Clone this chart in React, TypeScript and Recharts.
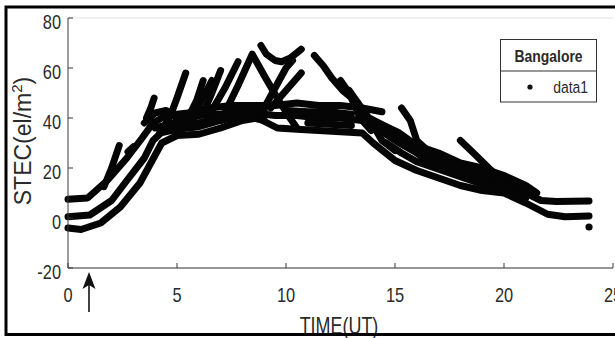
import React from 'react'
import { ComposedChart, Line, Scatter, XAxis, YAxis, CartesianGrid } from 'recharts'

// STEC passes over Bangalore (time in UT hours, STEC in el/m^2 units)
const passTop = [[0, 7.5], [0.9, 8], [1.8, 15], [2.7, 24], [3.4, 32], [3.9, 38], [4.5, 41], [5.5, 42], [6.5, 44], [7.5, 45], [8.5, 45], [9.5, 45], [10.5, 46], [11.5, 45], [12.5, 45], [13.5, 44], [14.4, 42.5]]
const passMid = [[0, 0.5], [1, 1.2], [2, 7], [2.7, 15], [3.5, 24], [3.9, 31], [4.5, 36], [5.5, 37], [6.5, 39], [7.5, 42], [8.5, 42], [9.5, 41], [10.5, 41], [11.5, 40], [12.5, 40], [13.5, 39], [14.5, 34], [15.2, 30], [16, 26], [17, 22], [18, 19], [19, 16], [20, 14], [21, 10], [21.7, 7], [22.4, 6.6], [23.9, 6.8]]
const passLow = [[0, -4], [0.6, -4.6], [1.5, -2], [2.4, 4.4], [3.3, 14], [3.8, 22], [4.3, 30], [5, 33], [6, 33.5], [7, 36], [8, 39], [8.7, 40], [9.6, 36], [10.5, 35.5], [11.5, 35], [12.5, 34.5], [13.5, 34], [14, 30], [15, 23], [16, 19], [17, 16], [18, 13], [19, 11], [20, 10], [21, 6], [22, 1.5], [22.8, 0.5], [23.9, 0.8]]
const passDesc = [[13.6, 41], [14.5, 37], [15.2, 34], [16, 29], [17, 26], [18, 22], [19, 20], [20, 17], [21, 13], [21.5, 10]]
const passDesc2 = [[14.2, 37], [15, 32], [16, 27.5], [17, 24], [18, 20.5], [19, 18], [20, 15.5], [21, 11.5]]
const passDesc3 = [[14.6, 30], [15.3, 26], [16, 22.5], [17, 19.5], [18, 16.5], [19, 13.5], [20, 12], [21, 8]]
const passDesc4 = [[15.5, 30], [16.2, 24.5], [17.2, 21], [18.2, 17.5], [19.2, 15]]
const passBlob = [[3.5, 38], [4, 42], [4.5, 43], [5, 40], [5.5, 38], [6, 38]]
const passBlob2 = [[4, 36], [5, 38.5], [6, 41], [7, 41.5], [8, 44], [9, 43]]
const passBlob3 = [[4.2, 34], [5, 35.5], [6, 36.5], [7, 39], [8, 41], [9, 39]]
const passPlat = [[10, 43], [11, 42.5], [12, 42.5], [13, 41.5]]
const passPlat2 = [[11, 38], [12, 37.5], [13, 37]]
const spike1 = [[1.65, 12.5], [2.0, 20], [2.35, 29]]
const spike2 = [[2.75, 26.5], [3.0, 28.5]]
const spike3 = [[3.6, 40], [3.8, 44], [3.95, 48]]
const spike4 = [[4.5, 38], [4.7, 41], [5.0, 48], [5.4, 58]]
const spike5 = [[5.6, 36], [6.0, 45], [6.6, 55]]
const spike6 = [[5.5, 40], [5.9, 47], [6.2, 55]]
const spike7 = [[6.2, 42], [6.6, 50], [7.0, 59]]
const spike8 = [[6.6, 43], [7.2, 52], [7.8, 62.5]]
const peakA = [[7.3, 44], [7.8, 53], [8.45, 65.5], [9.0, 57], [9.6, 48], [10.1, 41], [10.5, 36]]
const archU = [[8.85, 69], [9.1, 65.5], [9.5, 63], [9.8, 62.5], [10.2, 64], [10.7, 67.5]]
const riseB = [[9.3, 44], [9.9, 50], [10.3, 54], [10.7, 58]]
const riseC = [[9.0, 44], [9.5, 52], [10.0, 60], [10.3, 63]]
const fallA = [[11.3, 65], [11.7, 61], [12.1, 56], [12.6, 51], [13.3, 46], [13.8, 40], [14.4, 31], [15, 27]]
const fallB = [[12.5, 55], [12.9, 50], [13.4, 40], [13.9, 35]]
const fallC = [[12.9, 51], [13.3, 46], [13.6, 41]]
const fallD = [[15.3, 44], [15.7, 39], [16, 31], [16.5, 27], [17.5, 22], [18.5, 17]]
const fallE = [[18, 31], [18.6, 26], [19.3, 20], [20.3, 12]]
const lastDot = [[23.9, -3.6]]

const passes = [passTop, passMid, passLow, passDesc, passDesc2, passDesc3, passDesc4, passBlob, passBlob2, passBlob3, passPlat, passPlat2, spike1, spike2, spike3, spike4, spike5, spike6, spike7, spike8, peakA, archU, riseB, riseC, fallA, fallB, fallC, fallD, fallE]

const xTicks = [0, 5, 10, 15, 20, 25]
const yTicks = [-20, 0, 20, 40, 60, 80]

const toPts = (arr: number[][]) => arr.map(([x, y]) => ({ x, y }))

const AXIS = '#3a3a3a'
const TXT = '#2a2a2a'
const SANS = '"Liberation Sans", Arial, sans-serif'
const SQ = 0.82 // the figure's text is horizontally narrow

const BottomTick = ({ x, y, payload }: any) => (
  <g>
    <line x1={x} x2={x} y1={y} y2={y - 5} stroke={AXIS} />
    <text transform={`translate(${x},${y + 34}) scale(${SQ},1)`} textAnchor="middle" fontSize={20} fontFamily={SANS} fill={TXT}>
      {payload.value}
    </text>
  </g>
)
const TopTick = ({ x, y }: any) => <line x1={x} x2={x} y1={y} y2={y + 5} stroke={AXIS} />
const LeftTick = ({ x, y, payload }: any) => (
  <g>
    <line x1={x} x2={x + 5} y1={y} y2={y} stroke={AXIS} />
    <text transform={`translate(${x - 7},${y + 11}) scale(${SQ},1)`} textAnchor="end" fontSize={20} fontFamily={SANS} fill={TXT}>
      {payload.value}
    </text>
  </g>
)
const RightTick = ({ x, y }: any) => <line x1={x} x2={x - 5} y1={y} y2={y} stroke={AXIS} />

export default function App() {
  return (
    <div style={{ position: 'absolute', left: 0, top: 0, width: 615, height: 338, overflow: 'hidden', background: '#fff' }}>
      <ComposedChart width={615} height={338} margin={{ top: 18, right: 2, bottom: 30, left: 0 }}>
        <CartesianGrid vertical={false} stroke="#e2e2e2" />
        <XAxis xAxisId="b" dataKey="x" type="number" domain={[0, 25]} ticks={xTicks} height={40} stroke={AXIS}
          tickLine={false} tickSize={0} tickMargin={0} tick={<BottomTick />} interval={0} />
        <XAxis xAxisId="t" orientation="top" dataKey="x" type="number" domain={[0, 25]} ticks={xTicks} height={0}
          stroke={AXIS} tickLine={false} tickSize={0} tickMargin={0} tick={<TopTick />} interval={0} />
        <YAxis yAxisId="l" dataKey="y" type="number" domain={[-20, 80]} ticks={yTicks} width={68} stroke={AXIS}
          tickLine={false} tickSize={0} tickMargin={0} tick={<LeftTick />} interval={0} />
        <YAxis yAxisId="r" orientation="right" dataKey="y" type="number" domain={[-20, 80]} ticks={yTicks} width={0}
          stroke={AXIS} tickLine={false} tickSize={0} tickMargin={0} tick={<RightTick />} interval={0} />
        {passes.map((p, i) => (
          <Line key={i} xAxisId="b" yAxisId="l" data={toPts(p)} dataKey="y" type="linear" stroke="#050505"
            strokeWidth={7} strokeLinecap="round" strokeLinejoin="round" dot={false} isAnimationActive={false} />
        ))}
        <Scatter xAxisId="b" yAxisId="l" data={toPts(lastDot)} dataKey="y" fill="#050505" isAnimationActive={false}
          shape={(p: any) => <circle cx={p.cx} cy={p.cy} r={3.6} fill="#050505" />} />
      </ComposedChart>
      <svg width={615} height={338} style={{ position: 'absolute', left: 0, top: 0, pointerEvents: 'none' }}>
        <text transform="translate(31,141) rotate(-90)" textAnchor="middle" fontSize={23} fontFamily={SANS} fill={TXT}>
          STEC(el/m<tspan dy={-9} fontSize={15}>2</tspan><tspan dy={9}>)</tspan>
        </text>
        <text transform={`translate(339,334) scale(0.78,1)`} textAnchor="middle" fontSize={23} fontFamily={SANS} fill={TXT}>TIME(UT)</text>
        <g>
          <line x1={89} x2={89} y1={285} y2={312} stroke="#111" strokeWidth={1.6} />
          <path d="M89,272 L95.5,289 L89,285 L82.5,289 Z" fill="#111" />
        </g>
        <g>
          <rect x={500.5} y={39.5} width={96} height={62.5} fill="#fff" stroke="#333" strokeWidth={1} />
          <line x1={500.5} x2={596.5} y1={71} y2={71} stroke="#333" strokeWidth={1} />
          <text transform={`translate(548.5,62) scale(${SQ},1)`} textAnchor="middle" fontSize={17} fontWeight="bold" fontFamily={SANS} fill={TXT}>Bangalore</text>
          <circle cx={530} cy={87} r={2.6} fill="#111" />
          <text transform={`translate(588,93) scale(${SQ},1)`} textAnchor="end" fontSize={17} fontFamily={SANS} fill={TXT}>data1</text>
        </g>
        <rect x={6} y={7} width={700} height={327.5} fill="none" stroke="#000" strokeWidth={3} />
      </svg>
    </div>
  )
}
